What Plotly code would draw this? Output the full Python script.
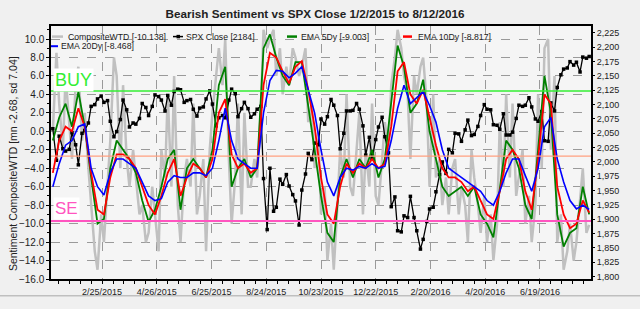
import pandas as pd
import plotly.graph_objects as go

# ---------------- data ----------------
friday_dates = pd.date_range('2015-01-02', periods=85, freq='7D')
tuesday_dates = friday_dates[:-1] + pd.Timedelta(days=4)
dense_dates = pd.DatetimeIndex(sorted(list(friday_dates) + list(tuesday_dates)))

spx_close = [
    2058, 2003, 2045, 2023, 2019, 2022, 2051, 2030, 1995, 2050,
    2055, 2068, 2097, 2100, 2110, 2115, 2104, 2107, 2071, 2044,
    2053, 2074, 2108, 2091, 2061, 2068, 2066, 2076, 2102, 2095,
    2081, 2097, 2117, 2114, 2108, 2089, 2116, 2099, 2123, 2127,
    2126, 2104, 2107, 2109, 2092, 2080, 2094, 2096, 2110, 2124,
    2101, 2063, 2077, 2081, 2077, 2108, 2127, 2119, 2079, 2093,
    2104, 2093, 2078, 2084, 2092, 2097, 1971, 1882, 1989, 1914,
    1921, 1970, 1961, 1978, 1958, 1943, 1932, 1890, 1951, 1979,
    2015, 2004, 2033, 2030, 2075, 2066, 2079, 2109, 2099, 2081,
    2023, 2050, 2089, 2089, 2090, 2102, 2092, 2063, 2012, 2043,
    2006, 2039, 2061, 2078, 2044, 2016, 1922, 1939, 1880, 1878,
    1906, 1903, 1940, 1903, 1880, 1848, 1865, 1896, 1918, 1921,
    1948, 1978, 2000, 1980, 2022, 2016, 2050, 2049, 2036, 2056,
    2073, 2046, 2048, 2062, 2081, 2100, 2092, 2091, 2065, 2064,
    2057, 2084, 2047, 2047, 2052, 2076, 2099, 2097, 2099, 2112,
    2096, 2075, 2071, 2088, 2037, 2036, 2103, 2089, 2130, 2152,
    2162, 2164, 2175, 2169, 2174, 2157, 2183, 2181, 2184,
]

composite_wtd = [
    0, 8.5, 3, -2, 6, 1, -3, 5, 7, -1,
    2, -4, -8, -13, -15, -9, -12, -5, -1, 8,
    6, -4, 5, -3, -6, -2, -5, -9, -8, -12,
    -11, -6, -9, -13, -2, -5, 4, -6, 6, -8,
    -12, -5, -3, -6, 3, -9, -7, -3, -13, -2,
    2, 6, 9, 5, 10, -3, -10, -5, 3, -9,
    2, -6, -6, -3, -5, 2, 11, 9, 10, 11,
    6, 9, 4, 7, 5, 9, 8, 6, 7, 9,
    1, 3, -4, 0, -9, -6, -14, -10, -15, -8,
    -2, -5, 4, -6, -7, -2, 2, -9, -2, -6,
    3, -7, -8, -3, 1, -2, 5, 8, 11, 9,
    6, 4, -3, 6, 4, 7, 8, 3, -6, 4,
    -5, -3, -8, -5, -9, -4, -3, -9, -6, -8,
    -12, -2, -5, -8, -11, -7, -12, -9, -14, -10,
    1, -6, 4, -5, 3, -7, -5, -2, -10, -7,
    -12, -8, 4, -4, 9, 10, -2, 6, -12, -9,
    -15, -13, -10, -14, -12, -7, -4, -11, -10.138,
]

ema_5dy = [
    -1, 1.5, 3.0, 0.5, 4.3, 0.5, -5, -10, -9.5, -4,
    -1, -2, -3, -4.5, -7.5, -9.8, -8.5, -6, -3, -2,
    -8.5, -4, -3, -4, -5, -2, 5, 7.0, -6, -4,
    -3, -5, -4, 9, 10.5, 8, 6, 5, 7.5, 7.5,
    3, -2, -7, -11, -12, -5, -3, -5, -3, -4,
    -2, -5, -3, 3, 9.3, 7, 2, 3, 5.6, 0,
    -3, -6, -7, -6.5, -6, -7, -6, -9, -10, -11.5,
    -6, -1, -2, -4, -8, -9.5, -2, 6, 2, -9,
    -12.5, -11, -10.5, -6, -9.003,
]

ema_10dy = [
    -4.5, -1, 0.5, 0, 2.5, 0.5, -4.5, -8.5, -9.0, -5,
    -2.5, -2.5, -3, -4, -6, -8, -9, -7, -4.5, -3,
    -7, -5, -3.5, -4, -5, -3, 2, 3.5, -2.5, -4,
    -3.5, -4.5, -4, 5, 8.5, 8, 6.5, 5.2, 7, 7.6,
    4.5, 0.5, -5, -9, -10, -6, -3.5, -4.5, -3.5, -4,
    -3, -4, -3.5, 0.5, 6.5, 7.5, 4, 3, 4.5, 1.5,
    -1.5, -4, -5, -5, -5.5, -6.5, -6, -7.5, -9, -9.5,
    -6.5, -3, -2, -3, -6.5, -8.5, -3, 4, 3, -6,
    -9.0, -10.5, -10, -7.5, -8.817,
]

ema_20dy = [
    -6.0, -3.5, -1.5, -1.0, 0.5, 0.8, -4.0, -6.0, -6.9, -4.5,
    -3, -3, -3.5, -4, -5.5, -7.0, -7.5, -7.3, -5.5, -4.8,
    -5, -5, -4.5, -4.5, -4.8, -4, -1, 2.5, -1, -3,
    -3.5, -4, -4, 2, 5.5, 6.6, 6.5, 5.8, 6.3, 7.0,
    4.5, 2.0, -2, -5.5, -7, -5, -4, -4.2, -3.8, -4,
    -3.5, -4, -3.8, -1, 2.5, 5.0, 3.0, 3.7, 4.3, 2.8,
    1, -2, -4, -4.5, -5, -5.5, -6, -6.5, -7.5, -8.0,
    -6.5, -4.5, -3, -3, -4.8, -6.5, -4, 0.5, 1.5, -3,
    -5.5, -7.5, -8.4, -8.0, -8.468,
]

tick_dates = ['2015-02-25', '2015-04-26', '2015-06-25', '2015-08-24', '2015-10-23',
              '2015-12-22', '2016-02-20', '2016-04-20', '2016-06-19']
tick_labels = ['2/25/2015', '4/26/2015', '6/25/2015', '8/24/2015', '10/23/2015',
               '12/22/2015', '2/20/2016', '4/20/2016', '6/19/2016']

SENT_MEAN, SENT_SD = -2.68, 7.04

legend_items = [
    ('CompositeWTD [-10.138]', '#c0c0c0'),
    ('SPX Close [2184]', '#000000'),
    ('EMA 5Dy [-9.003]', '#008000'),
    ('EMA 10Dy [-8.817]', '#ff0000'),
    ('EMA 20Dy [-8.468]', '#0000ff'),
]

# ---------------- layout helpers ----------------
W, H = 640, 309
ML, MR, MT, MB = 51, 49, 26, 20
PW, PH = W - ML - MR, H - MT - MB


def fx(px):
    return (px - ML) / PW


def fy(py):
    return (H - MB - py) / PH


FONT = 'Liberation Sans, Arial, sans-serif'

fig = go.Figure()
fig.add_trace(go.Scatter(x=dense_dates, y=composite_wtd, name=legend_items[0][0], mode='lines',
                         line=dict(color='#c0c0c0', width=2.5), yaxis='y'))
fig.add_trace(go.Scatter(x=dense_dates, y=spx_close, name=legend_items[1][0], mode='lines+markers',
                         line=dict(color='#000000', width=1.3),
                         marker=dict(symbol='square', size=3.5, color='#000000'), yaxis='y2'))
fig.add_trace(go.Scatter(x=friday_dates, y=ema_5dy, name=legend_items[2][0], mode='lines',
                         line=dict(color='#008000', width=1.8), yaxis='y3'))
fig.add_trace(go.Scatter(x=friday_dates, y=ema_10dy, name=legend_items[3][0], mode='lines',
                         line=dict(color='#ff0000', width=1.8), yaxis='y3'))
fig.add_trace(go.Scatter(x=friday_dates, y=ema_20dy, name=legend_items[4][0], mode='lines',
                         line=dict(color='#0000ff', width=1.6), yaxis='y3'))

left_range = [-16, 11.41]

shapes = []
# mean and +/- 1 sd reference lines
for level, col, wd in [(SENT_MEAN + SENT_SD, '#33ee33', 1.5),
                       (SENT_MEAN, '#ffa080', 1.2),
                       (SENT_MEAN - SENT_SD, '#ff55c0', 2)]:
    shapes.append(dict(type='line', xref='paper', yref='y', x0=0, x1=1, y0=level, y1=level,
                       line=dict(color=col, width=wd), layer='above'))

# manual legend samples
sample_pos = [(52, 63, 37), (173, 183, 37), (287, 297, 37), (403, 412, 37), (51, 58, 47)]
text_pos = [(67, 37), (185, 37), (300, 37), (417, 37), (60, 47)]
sample_w = [2.5, 1.5, 2.5, 2.5, 2]
annotations = []
for (name, col), (a, b, yy), (tx, ty), sw in zip(legend_items, sample_pos, text_pos, sample_w):
    shapes.append(dict(type='line', xref='paper', yref='paper', x0=fx(a), x1=fx(b), y0=fy(yy), y1=fy(yy),
                       line=dict(color=col, width=sw), layer='above'))
    annotations.append(dict(text=name, xref='paper', yref='paper', x=fx(tx), y=fy(ty),
                            xanchor='left', yanchor='middle', showarrow=False, borderpad=0,
                            font=dict(family=FONT, size=8.7, color='#222222')))
# SPX marker in legend
shapes.append(dict(type='rect', xref='paper', yref='paper', x0=fx(176.5), x1=fx(180), y0=fy(38.8), y1=fy(35.2),
                   fillcolor='#000000', line=dict(width=0), layer='above'))

# bottom border of the picture
shapes.append(dict(type='line', xref='paper', yref='paper', x0=fx(0), x1=fx(W), y0=fy(306.5), y1=fy(306.5),
                   line=dict(color='#a8a8a8', width=1), layer='above'))

annotations += [
    dict(text='BUY', xref='paper', yref='paper', x=fx(53), y=fy(82), xanchor='left', yanchor='middle',
         showarrow=False, bgcolor='#ffffff', borderpad=1,
         font=dict(family=FONT, size=18, color='#33ee33')),
    dict(text='SE', xref='paper', yref='paper', x=fx(53), y=fy(216), xanchor='left', yanchor='middle',
         showarrow=False, bgcolor='#ffffff', borderpad=1,
         font=dict(family=FONT, size=17, color='#ff55c0')),
    dict(text='Sentiment CompositeWTD [mn -2.68, sd 7.04]', xref='paper', yref='paper',
         x=fx(12.5), y=fy(169), textangle=-90, xanchor='center', yanchor='middle', showarrow=False,
         font=dict(family=FONT, size=10.5, color='#222222')),
]

fig.update_layout(
    width=W, height=H,
    margin=dict(l=ML, r=MR, t=MT, b=MB, pad=0),
    paper_bgcolor='#f0f0f0',
    plot_bgcolor='#f5f5f5',
    showlegend=False,
    title=dict(text='<b>Bearish Sentiment vs SPX Close 1/2/2015 to 8/12/2016</b>',
               x=315 / W, xref='container', xanchor='center', y=1 - 14 / H, yref='container',
               yanchor='middle', font=dict(family=FONT, size=11.7, color='#222222')),
    xaxis=dict(type='date', range=['2014-12-31', '2016-08-14'], tickmode='array',
               tickvals=tick_dates, ticktext=tick_labels, ticks='outside', ticklen=3,
               tickcolor='#000000', tickfont=dict(family=FONT, size=9, color='#222222'),
               showgrid=True, gridcolor='#9a9a9a', griddash='dash', gridwidth=1,
               showline=True, linecolor='#000000', linewidth=1.5, mirror=True, zeroline=False,
               minor=dict(ticks='outside', ticklen=3, tickcolor='#000000', tick0='2015-02-25',
                          dtick=12 * 86400000, showgrid=False)),
    yaxis=dict(range=left_range, tickmode='linear', tick0=0, dtick=2, tickformat='.1f',
               ticks='outside', ticklen=3, tickcolor='#000000',
               tickfont=dict(family=FONT, size=10, color='#222222'),
               showgrid=True, gridcolor='#9a9a9a', griddash='dash', gridwidth=1, zeroline=False,
               showline=True, linecolor='#000000', linewidth=1.5, mirror=True,
               minor=dict(ticks='outside', ticklen=2, dtick=1, tickcolor='#000000', showgrid=False)),
    yaxis2=dict(overlaying='y', side='right', range=[1795.8, 2237.2], tickmode='linear', tick0=1800,
                dtick=25, tickformat=',.0f', ticks='outside', ticklen=3, tickcolor='#000000',
                tickfont=dict(family=FONT, size=9, color='#222222'), showgrid=False, zeroline=False,
                showline=False),
    yaxis3=dict(overlaying='y', range=left_range, visible=False),
    shapes=shapes,
    annotations=annotations,
)

fig.write_html('out.html')
